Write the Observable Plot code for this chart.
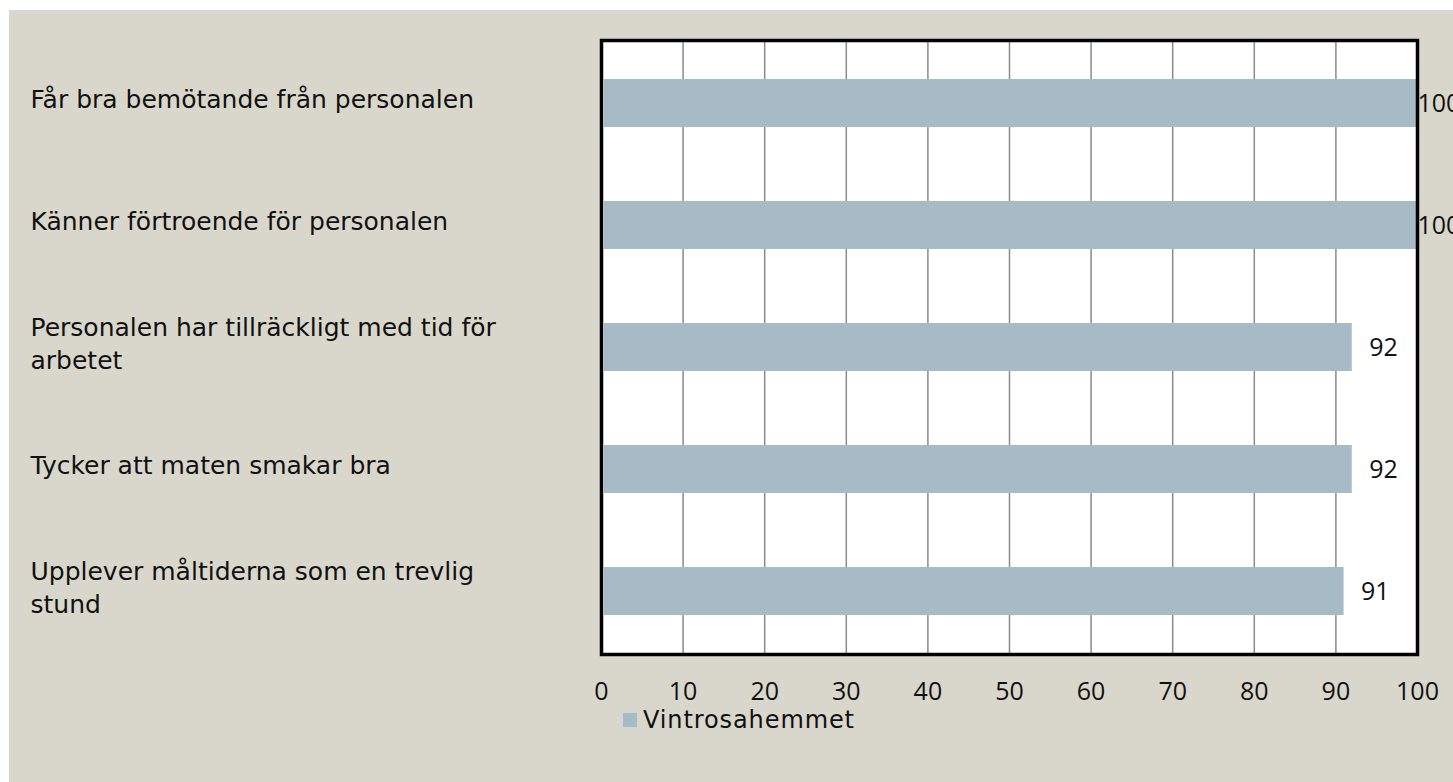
<!DOCTYPE html>
<html>
<head>
<meta charset="utf-8">
<script src="https://cdn.jsdelivr.net/npm/d3@7"></script>
<script src="https://cdn.jsdelivr.net/npm/@observablehq/plot@0.6"></script>
<style>
  html, body { margin: 0; padding: 0; background: #ffffff; }
  #wrap { position: absolute; left: 9px; top: 10px; width: 1444px; height: 772px; background: #d9d7cb; overflow: visible; font-family: "DejaVu Sans", sans-serif; }
  #chart svg { overflow: visible; display: block; }
  #legend { position: absolute; left: 614px; top: 697px; display: flex; align-items: center; font-size: 24px; line-height: 26px; letter-spacing: 0.9px; color: #111; }
  #legend .sw { width: 14px; height: 14px; background: #a6bbc6; margin-right: 6px; }
</style>
</head>
<body>
<div id="wrap">
  <div id="chart"></div>
  <div id="legend"><div class="sw"></div><span id="legtext"></span></div>
</div>
<script>
const categories = [
  "Får bra bemötande från personalen",
  "Känner förtroende för personalen",
  "Personalen har tillräckligt med tid för arbetet",
  "Tycker att maten smakar bra",
  "Upplever måltiderna som en trevlig stund"
];
const displayLabels = [
  "Får bra bemötande från personalen",
  "Känner förtroende för personalen",
  "Personalen har tillräckligt med tid för\narbetet",
  "Tycker att maten smakar bra",
  "Upplever måltiderna som en trevlig\nstund"
];
const values = [100, 100, 92, 92, 91];
const seriesName = "Vintrosahemmet";
const xTicks = [0, 10, 20, 30, 40, 50, 60, 70, 80, 90, 100];

const data = categories.map((c, i) => ({category: c, label: displayLabels[i], value: values[i]}));

const numFont = "Open Sans, sans-serif";

const chart = Plot.plot({
  width: 1444,
  height: 700,
  marginLeft: 592,
  marginRight: 36,
  marginTop: 30,
  marginBottom: 56,
  style: {fontFamily: "DejaVu Sans, sans-serif", fontSize: "25px", color: "#111", background: "transparent"},
  x: {domain: [0, 100], ticks: xTicks, label: null},
  y: {domain: categories, paddingInner: 0.61, paddingOuter: 0.305, axis: null},
  marks: [
    Plot.frame({fill: "white", stroke: null}),
    Plot.gridX(xTicks, {stroke: "#8a8a8a", strokeOpacity: 1, strokeWidth: 1.5}),
    Plot.barX(data, {x: "value", y: "category", fill: "#a6bbc6", insetLeft: 3}),
    Plot.text(data.filter(d => d.value < 100), {x: "value", y: "category", text: d => String(d.value), textAnchor: "start", dx: 17, fill: "#111", fontSize: 25, fontFamily: numFont}),
    Plot.text(data.filter(d => d.value >= 100), {x: "value", y: "category", text: d => String(d.value), textAnchor: "start", dx: 0, fill: "#111", fontSize: 25, fontFamily: numFont}),
    Plot.text(data, {y: "category", text: "label", frameAnchor: "left", textAnchor: "start", dx: -571, dy: -6, lineHeight: 1.32, fill: "#111", fontSize: 25, letterSpacing: 0.8}),
    Plot.frame({stroke: "black", strokeWidth: 3.5}),
    Plot.axisX(xTicks, {tickSize: 0, tickPadding: 28, fontSize: 25, fontFamily: numFont, fill: "#111", label: null})
  ]
});
document.getElementById("chart").appendChild(chart);
document.getElementById("legtext").textContent = seriesName;
</script>
</body>
</html>
